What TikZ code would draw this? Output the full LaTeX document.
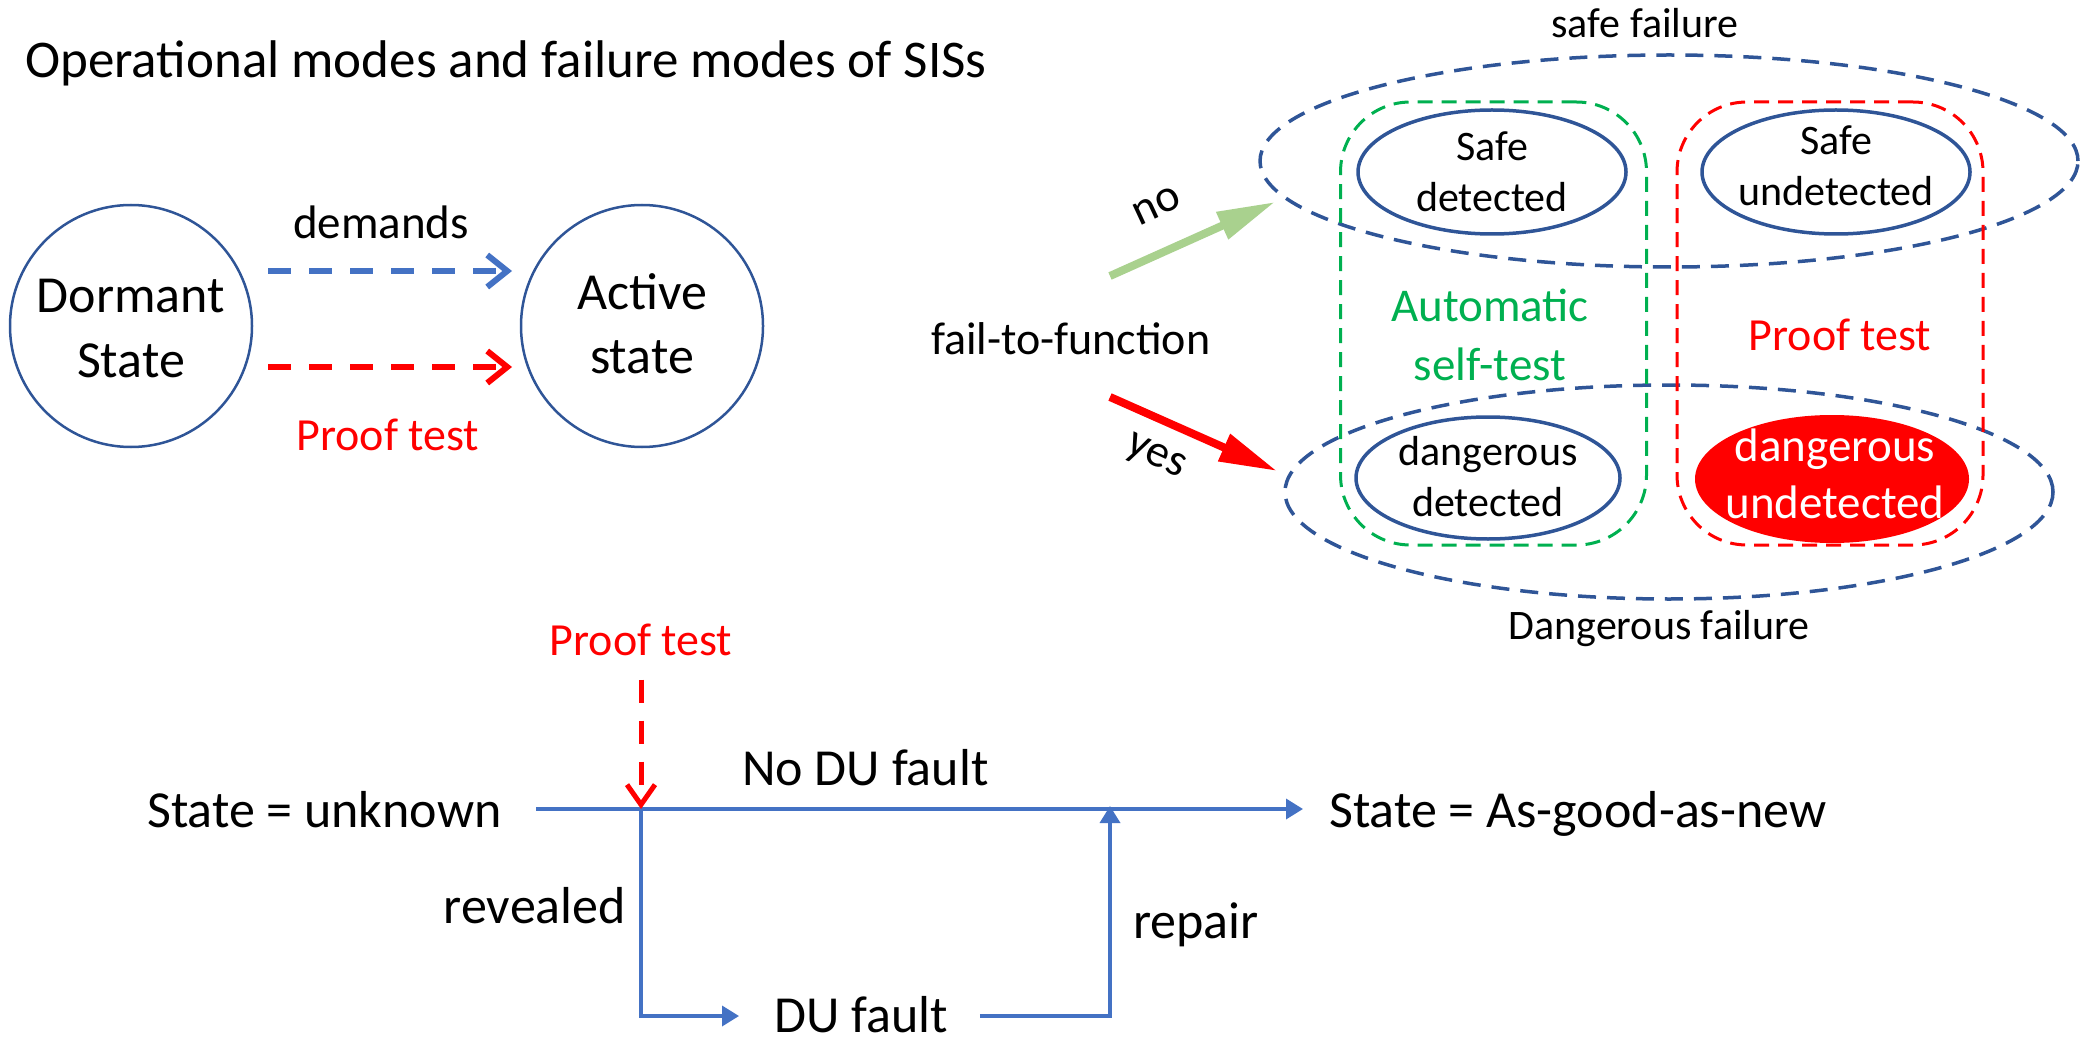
\documentclass[tikz,border=0pt]{standalone}
\usepackage{fontspec}
\setmainfont{Carlito}
\usetikzlibrary{arrows.meta,shapes.geometric,calc}
\definecolor{dkblue}{HTML}{2F5597}
\definecolor{accblue}{HTML}{4472C4}
\definecolor{myred}{HTML}{FF0000}
\definecolor{mygreen}{HTML}{00B050}
\definecolor{ltgreen}{HTML}{A9D18E}
\newcommand{\fsz}[1]{\fontsize{#1}{#1}\selectfont}
\begin{document}
\begin{tikzpicture}[x=1pt,y=-1pt,
  lbl/.style={inner sep=0pt, anchor=base},
  t52/.style={lbl, font={\fsz{52}}},
  t47/.style={lbl, font={\fsz{47}}},
  t46/.style={lbl, font={\fsz{46}}},
  t42/.style={lbl, font={\fsz{42}}},
  circ/.style={circle, draw=dkblue, line width=2.5pt, minimum size=242pt, inner sep=0pt},
  dashar/.style={line width=6pt, dash pattern=on 23pt off 18pt, -{Straight Barb[length=20pt,width=32pt]}},
  bigell/.style={ellipse, draw=dkblue, line width=3.5pt, dash pattern=on 18pt off 11pt, inner sep=0pt},
  smell/.style={ellipse, draw=dkblue, line width=3.5pt, inner sep=0pt},
  tbox/.style={rectangle, rounded corners=70pt, line width=3pt, dash pattern=on 15pt off 9pt, inner sep=0pt, minimum width=306pt, minimum height=443pt},
  fat/.style={line width=8pt, -{Triangle[length=58pt,width=28pt]}},
  flow/.style={draw=accblue, line width=3.5pt},
  flowar/.style={flow, -{Triangle[length=17pt,width=20pt]}}
]
\useasboundingbox (0,0) rectangle (2095,1040);

% title
\node[inner sep=0pt, anchor=base west, font={\fsz{53}}] (title) at (25,78) {Operational modes and failure modes of SISs};

% operational modes
\node[circ] (dormant) at (131,326) {};
\node[t52] (dormantA) at (131,313) {Dormant};
\node[t52] (dormantB) at (131,377) {State};
\node[circ] (active) at (642,326) {};
\node[t52] (activeA) at (642,310) {Active};
\node[t52] (activeB) at (642,373) {state};
\draw[dashar, accblue] ($(dormant.center)+(137,-55)$) -- ($(active.center)+(-130,-55)$);
\draw[dashar, myred] ($(dormant.center)+(137,41)$) -- ($(active.center)+(-130,41)$);
\node[t47] (demands) at (381,239) {demands};
\node[t46, text=myred] (prooftop) at (388,450) {Proof test};

% failure modes
\node[lbl, anchor=base west, font={\fsz{46}}] (fail) at (931,355) {fail-to-function};
\node[bigell, minimum width=818pt, minimum height=212pt] (safefail) at (1669,161) {};
\node[bigell, minimum width=768pt, minimum height=214pt] (dangfail) at (1669,492) {};
\node[tbox, draw=mygreen] (autobox) at (1493.5,323.5) {};
\node[smell, minimum width=268pt, minimum height=124pt] (sd) at (1492,172) {};
\node[smell, minimum width=268pt, minimum height=124pt] (su) at (1836,172) {};
\node[smell, minimum width=264pt, minimum height=122pt] (dd) at (1488,478) {};
\node[ellipse, fill=myred, inner sep=0pt, minimum width=274pt, minimum height=128pt] (dund) at (1832,479) {};
\node[tbox, draw=myred] (proofbox) at (1830,323.5) {};

\node[t42] (sdA) at (1492,161) {Safe};
\node[t42] (sdB) at (1492,212) {detected};
\node[t42] (suA) at (1836,155) {Safe};
\node[t42] (suB) at (1836,206) {undetected};
\node[t42] (ddA) at (1488,465) {dangerous};
\node[t42] (ddB) at (1488,516) {detected};
\node[t47, text=white] (duA) at (1835,461) {dangerous};
\node[t47, text=white] (duB) at (1835,518) {undetected};
\node[t47, text=mygreen] (autoA) at (1490,322) {Automatic};
\node[t47, text=mygreen] (autoB) at (1490,380) {self-test};
\node[t46, text=myred] (proofR) at (1840,351) {Proof test};
\node[t42] (safefailtxt) at (1645,38) {safe failure};
\node[t42] (dangfailtxt) at (1659,639) {Dangerous failure};

\coordinate (noStart) at (1110,276);
\coordinate (noEnd) at (1275,202);
\coordinate (yesStart) at (1110,397);
\coordinate (yesEnd) at (1277,471);
\draw[fat, ltgreen] (noStart) -- (noEnd);
\draw[fat, myred] (yesStart) -- (yesEnd);
\node[inner sep=0pt, font={\fsz{46}}, rotate=25] (no) at (1157,206) {no};
\node[inner sep=0pt, font={\fsz{46}}, rotate=-25] (yes) at (1155,458) {yes};

% proof test flow
\node[t46, text=myred] (proofbot) at (641,655) {Proof test};
\node[lbl, anchor=base west, font={\fsz{52}}] (unknown) at (147,827) {State = unknown};
\node[lbl, anchor=base west, font={\fsz{52}}] (good) at (1329,827) {State = As-good-as-new};
\node[t52] (dufault) at (861,1032) {DU fault};
\node[lbl, anchor=base west, font={\fsz{52}}] (nodu) at (742,785) {No DU fault};
\node[lbl, anchor=base east, font={\fsz{52}}] (revealed) at (626,923) {revealed};
\node[lbl, anchor=base west, font={\fsz{52}}] (repair) at (1133,938) {repair};

\coordinate (hstart) at (536,809);
\coordinate (ptx) at (641,809);
\coordinate (rjoin) at (1110,809);
\coordinate (dl) at (641,1016);
\coordinate (dr) at (1110,1016);
\draw[flowar, shorten >=26pt] (hstart) -- (hstart -| good.west);
\draw[flowar, shorten >=35pt] (ptx) -- (dl) -- (dl -| dufault.west);
\draw[flowar] ([xshift=32pt]dl -| dufault.east) -- (dr) -- ([yshift=3pt]rjoin);
\draw[myred, line width=5pt, dash pattern=on 23pt off 18pt, shorten <=24pt, -{Straight Barb[length=20pt,width=28pt]}] (proofbot.south) -- (ptx);
\end{tikzpicture}
\end{document}
